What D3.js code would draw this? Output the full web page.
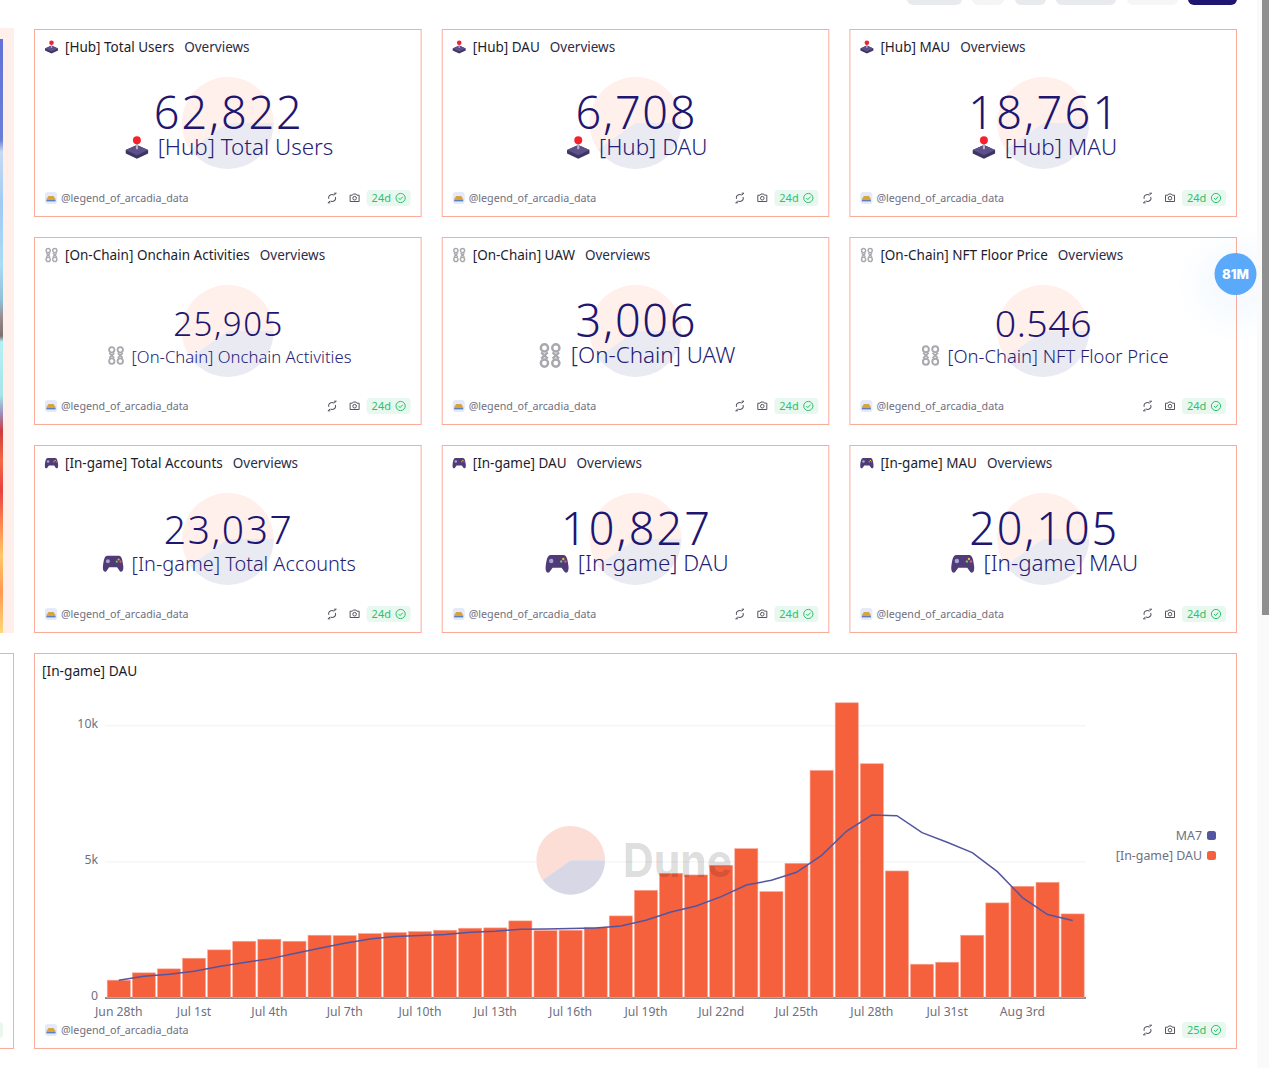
<!DOCTYPE html>
<html>
<head>
<meta charset="utf-8">
<title>Legend of Arcadia dashboard</title>
<script src="https://cdn.jsdelivr.net/npm/d3@7"></script>
<style>
  html, body { margin: 0; padding: 0; background: #fff; overflow: hidden; }
  svg { display: block; font-family: "Noto Sans", sans-serif; }
</style>
</head>
<body>
<div id="chart-area"></div>
<script>
// counter cards
var cardTitles = ["[Hub] Total Users", "[Hub] DAU", "[Hub] MAU",
  "[On-Chain] Onchain Activities", "[On-Chain] UAW", "[On-Chain] NFT Floor Price",
  "[In-game] Total Accounts", "[In-game] DAU", "[In-game] MAU"];
var cardValues = ["62,822", "6,708", "18,761", "25,905", "3,006", "0.546", "23,037", "10,827", "20,105"];
var cardIcons = ["hub", "hub", "hub", "chain", "chain", "chain", "game", "game", "game"];

// bottom chart
var dates = ["Jun 28th", "Jun 29th", "Jun 30th", "Jul 1st", "Jul 2nd", "Jul 3rd", "Jul 4th", "Jul 5th",
  "Jul 6th", "Jul 7th", "Jul 8th", "Jul 9th", "Jul 10th", "Jul 11th", "Jul 12th", "Jul 13th", "Jul 14th",
  "Jul 15th", "Jul 16th", "Jul 17th", "Jul 18th", "Jul 19th", "Jul 20th", "Jul 21st", "Jul 22nd", "Jul 23rd",
  "Jul 24th", "Jul 25th", "Jul 26th", "Jul 27th", "Jul 28th", "Jul 29th", "Jul 30th", "Jul 31st",
  "Aug 1st", "Aug 2nd", "Aug 3rd", "Aug 4th", "Aug 5th"];
var dau = [636, 906, 1052, 1443, 1749, 2067, 2141, 2067, 2288, 2275, 2349, 2386, 2422, 2471, 2545, 2557, 2814,
  2459, 2471, 2582, 2997, 3939, 4563, 4502, 4857, 5468, 3890, 4930, 8343, 10827, 8588, 4649,
  1223, 1296, 2288, 3475, 4086, 4233, 3071];
var ma7 = [636, 783, 856, 966, 1138, 1285, 1419, 1615, 1811, 1994, 2153, 2239, 2275, 2312, 2398, 2435, 2508,
  2520, 2533, 2557, 2630, 2838, 3144, 3364, 3707, 4135, 4306, 4600, 5223, 6117, 6704, 6680,
  6056, 5701, 5322, 4624, 3670, 3046, 2826];
var yTicks = [0, 5000, 10000];
var xTicks = ["Jun 28th", "Jul 1st", "Jul 4th", "Jul 7th", "Jul 10th", "Jul 13th", "Jul 16th", "Jul 19th",
  "Jul 22nd", "Jul 25th", "Jul 28th", "Jul 31st", "Aug 3rd"];

var BORDER = "#fbab99", NAVY = "#1e1670", ORANGE = "#f5603d", PURPLE = "#5355a0", GREY = "#6f6f80";

var svg = d3.select("#chart-area").append("svg").attr("width", 1269).attr("height", 1068);
var defs = svg.append("defs");

// the photo cut off at the left edge
var stripStops = [[0, "#6272d8"], [.17, "#6b7ed6"], [.19, "#c8d9f3"], [.28, "#9fcaf5"], [.38, "#a9dcf5"],
  [.44, "#8ec0d8"], [.47, "#9a8a8a"], [.50, "#7d7070"], [.51, "#b5f0f5"], [.60, "#a6e4e6"], [.63, "#9a90c0"],
  [.66, "#d03a3a"], [.71, "#f56a45"], [.76, "#e84040"], [.82, "#ff8a50"], [.87, "#ffc868"], [.93, "#ff9a50"], [1, "#ffd878"]];
var grad = defs.append("linearGradient").attr("id", "strip").attr("x1", 0).attr("x2", 0).attr("y1", 0).attr("y2", 1);
stripStops.forEach(function(s) { grad.append("stop").attr("offset", s[0]).attr("stop-color", s[1]); });
svg.append("rect").attr("x", 0).attr("y", 28).attr("width", 14).attr("height", 605).attr("fill", "#ffefea");
svg.append("rect").attr("x", 0).attr("y", 39).attr("width", 3).attr("height", 594).attr("fill", "url(#strip)");

// pills cut off at the top
[[907, 55, "#e9eaee"], [972, 32, "#f5f5f6"], [1015, 31, "#e9eaee"], [1056, 60, "#e9eaee"], [1127, 51, "#f6f6f7"], [1188, 49, NAVY]]
  .forEach(function(p) {
    svg.append("rect").attr("x", p[0]).attr("y", -8).attr("width", p[1]).attr("height", 13).attr("rx", 6).attr("fill", p[2]);
  });

// next chart's card cut off at the left
svg.append("rect").attr("x", -10).attr("y", 653.5).attr("width", 23.5).attr("height", 395).attr("fill", "none").attr("stroke", BORDER);
svg.append("rect").attr("x", -20).attr("y", 1022).attr("width", 23).attr("height", 16).attr("rx", 4).attr("fill", "#e8f8ef");

function duneMark(g, cx, cy, r, top, bottom) {
  var arc = d3.arc().innerRadius(0).outerRadius(r);
  var turn = Math.PI / 180;
  g.append("path").attr("transform", "translate(" + cx + "," + cy + ")")
    .attr("d", arc({ startAngle: -125 * turn, endAngle: 90 * turn })).attr("fill", top);
  g.append("path").attr("transform", "translate(" + cx + "," + cy + ")")
    .attr("d", arc({ startAngle: 90 * turn, endAngle: 235 * turn })).attr("fill", bottom);
}

// s = 1 means a 13px wide icon, drawn around (0,0)
function drawIcon(g, kind, x, y, s) {
  var i = g.append("g").attr("transform", "translate(" + x + "," + y + ") scale(" + s + ")");
  if (kind == "hub") {
    i.append("path").attr("d", "M-6.5,1.5 L0,-1.5 L6.5,1.5 L6.5,3.5 L0,6.5 L-6.5,3.5 Z").attr("fill", "#3e3560");
    i.append("path").attr("d", "M-6.5,1.5 L0,-1.5 L6.5,1.5 L0,4.5 Z").attr("fill", "#5c4f8a");
    i.append("rect").attr("x", -0.6).attr("y", -3.5).attr("width", 1.2).attr("height", 4.5).attr("fill", "#b8b4c4");
    i.append("circle").attr("cy", -4.2).attr("r", 2.3).attr("fill", "#f5222d");
  } else if (kind == "chain") {
    [-3.3, 3.3].forEach(function(dx) {
      [-4.4, 4.4].forEach(function(dy) {
        i.append("ellipse").attr("cx", dx).attr("cy", dy).attr("rx", 2.1).attr("ry", 2.1)
          .attr("fill", "none").attr("stroke", "#a8a8ae").attr("stroke-width", 1.4);
      });
      i.append("path").attr("d", "M" + (dx - 1.9) + ",-1.8 L" + (dx + 1.9) + ",1.8 M" + (dx + 1.9) + ",-1.8 L" + (dx - 1.9) + ",1.8")
        .attr("stroke", "#a8a8ae").attr("stroke-width", 1.3);
    });
  } else {
    i.append("path").attr("d", "M-3.8,-5 L3.8,-5 C5.6,-5 6.2,-2 6.6,1.5 C7,5 5.6,6 4.4,5 L2.6,2.5 L-2.6,2.5 L-4.4,5 C-5.6,6 -7,5 -6.6,1.5 C-6.2,-2 -5.6,-5 -3.8,-5 Z")
      .attr("fill", "#4e3b78");
    i.append("circle").attr("cx", -3.4).attr("cy", -1.5).attr("r", 1.3).attr("fill", "#a9a3d0");
    i.append("circle").attr("cx", 3.6).attr("cy", -2.6).attr("r", 0.7).attr("fill", "#f2b632");
    i.append("circle").attr("cx", 4.8).attr("cy", -1.2).attr("r", 0.7).attr("fill", "#e05c5c");
    i.append("circle").attr("cx", 2.4).attr("cy", -1.2).attr("r", 0.7).attr("fill", "#6fc36f");
  }
}

function drawFooter(g, x0, right, y, age) {
  // avatar and owner
  g.append("rect").attr("x", x0).attr("y", y - 6).attr("width", 12).attr("height", 12).attr("rx", 3).attr("fill", "#e4e9fb");
  g.append("path").attr("d", "M" + (x0 + 1.5) + "," + (y + 1) + " l2,-3 l5,0 l2,3 l0,1.5 l-9,0 Z").attr("fill", "#d9a43f");
  g.append("rect").attr("x", x0 + 1.5).attr("y", y + 2).attr("width", 9).attr("height", 1.4).attr("fill", "#5a7fc0");
  g.append("text").attr("x", x0 + 16).attr("y", y + 4).attr("font-size", 10.7).attr("fill", GREY).text("@legend_of_arcadia_data");

  // refresh icon
  var r = g.append("g").attr("transform", "translate(" + (right - 89) + "," + y + ")")
    .attr("fill", "none").attr("stroke", "#55555f").attr("stroke-width", 1);
  r.append("circle").attr("r", 3.4).attr("stroke-dasharray", "8 2.7").attr("transform", "rotate(-20)");
  r.append("path").attr("d", "M2,-3 L4.2,-4.8 M-2,3 L-4.2,4.8 M-4.2,4.8 L-1.8,4.8 M4.2,-4.8 L1.8,-4.8");

  // camera icon
  var c = g.append("g").attr("transform", "translate(" + (right - 66.5) + "," + y + ")")
    .attr("fill", "none").attr("stroke", "#55555f").attr("stroke-width", 1);
  c.append("path").attr("d", "M-4.5,-2.8 L-2.2,-2.8 L-1.3,-4 L1.3,-4 L2.2,-2.8 L4.5,-2.8 L4.5,3.5 L-4.5,3.5 Z");
  c.append("circle").attr("cy", 0.2).attr("r", 1.8);

  // age badge
  g.append("rect").attr("x", right - 54.5).attr("y", y - 8).attr("width", 44).attr("height", 16).attr("rx", 4).attr("fill", "#e8f8ef");
  g.append("text").attr("x", right - 49.5).attr("y", y + 4).attr("font-size", 11).attr("fill", "#2fbf71").text(age);
  var b = g.append("g").attr("transform", "translate(" + (right - 20.5) + "," + y + ")")
    .attr("fill", "none").attr("stroke", "#2fbf71").attr("stroke-width", 1);
  b.append("circle").attr("r", 4.6);
  b.append("path").attr("d", "M-2,0 L-0.5,1.6 L2.2,-1.4");
}

// the nine counters
var cardX = d3.scaleBand().domain([0, 1, 2]).range([34.5, 1236.5]).paddingInner(20 / 387);
var numberSizes = [45, 45, 45, 33, 45, 37.5, 39, 45, 45];
var numberWidths = [148, 120, 150, 109, 120, 97, 128, 149, 148];
var numberBase = [99.5, 99.5, 99.5, 98.5, 99.5, 99, 98.5, 99.5, 99.5];
var subSizes = [22.4, 22.4, 22.4, 16.7, 22.4, 18.4, 19.9, 22.4, 22.4];

cardTitles.forEach(function(title, i) {
  var x0 = cardX(i % 3), w = cardX.bandwidth(), y0 = 29.5 + Math.floor(i / 3) * 208, cx = x0 + w / 2;
  var g = svg.append("g");
  g.append("rect").attr("x", x0).attr("y", y0).attr("width", w).attr("height", 187)
    .attr("fill", "#fff").attr("stroke", BORDER);
  duneMark(g, cx, y0 + 93.5, 46, "#fff0ec", "#e9eaf2");

  // header
  drawIcon(g, cardIcons[i], x0 + 17, y0 + 17.5, 1);
  var head = g.append("text").attr("x", x0 + 30.5).attr("y", y0 + 22.5).attr("font-size", 13.5).attr("fill", "#1c1c2c").text(title);
  g.append("text").attr("x", x0 + 30.5 + head.node().getComputedTextLength() + 10).attr("y", y0 + 22.5)
    .attr("font-size", 13.5).attr("fill", "#2d2d48").text("Overviews");

  // number and its label
  g.append("text").attr("x", cx).attr("y", y0 + numberBase[i]).attr("text-anchor", "middle")
    .attr("font-size", numberSizes[i]).attr("font-weight", 350).attr("fill", NAVY)
    .attr("textLength", numberWidths[i]).text(cardValues[i]);
  var iconW = subSizes[i] * 0.95, gap = subSizes[i] * 0.45;
  var sub = g.append("text").attr("y", y0 + 125.5).attr("font-size", subSizes[i]).attr("font-weight", 350).attr("fill", "#241d72").text(title);
  var total = iconW + gap + sub.node().getComputedTextLength();
  var left = cx + 2 - total / 2;
  sub.attr("x", left + iconW + gap);
  drawIcon(g, cardIcons[i], left + iconW / 2, y0 + 118, subSizes[i] / 13);

  drawFooter(g, x0 + 10.5, x0 + w, y0 + 168.5, "24d");
});

// bottom chart card
svg.append("rect").attr("x", 34.5).attr("y", 653.5).attr("width", 1202).attr("height", 395)
  .attr("fill", "#fff").attr("stroke", BORDER);
svg.append("text").attr("x", 42).attr("y", 676).attr("font-size", 13.7).attr("fill", "#1c1c2c").text("[In-game] DAU");

var x = d3.scaleBand().domain(dates).range([106.2, 1085.2]).paddingInner(0.08).paddingOuter(0.04);
var y = d3.scaleLinear().domain([0, 10000]).range([997.5, 725.3]);

var yAxis = svg.append("g").attr("transform", "translate(105,0)")
  .call(d3.axisLeft(y).tickValues(yTicks).tickSize(-981).tickPadding(7)
    .tickFormat(function(d) { return d ? d / 1000 + "k" : "0"; }));
yAxis.select(".domain").remove();
yAxis.selectAll("line").attr("stroke", "#f1f1f3");
yAxis.selectAll("text").attr("font-size", 12.3).attr("fill", GREY).attr("font-family", "Noto Sans").attr("dy", "0.2em");

var xAxis = svg.append("g").attr("transform", "translate(0,997.5)")
  .call(d3.axisBottom(x).tickValues(xTicks).tickSize(0).tickPadding(10));
xAxis.select(".domain").attr("stroke", "#222").attr("d", "M105,0.5H1086");
xAxis.selectAll("text").attr("font-size", 12.2).attr("fill", GREY).attr("font-family", "Noto Sans");

svg.append("g").selectAll("rect").data(dates).enter().append("rect")
  .attr("x", function(d) { return x(d); })
  .attr("y", function(d, i) { return y(dau[i]); })
  .attr("width", x.bandwidth())
  .attr("height", function(d, i) { return y(0) - y(dau[i]); })
  .attr("fill", ORANGE)
  .attr("stroke", "#f9a795").attr("stroke-width", 0.6);

var line = d3.line()
  .x(function(d, i) { return x(dates[i]) + x.bandwidth() / 2; })
  .y(function(d) { return y(d); });
svg.append("path").attr("d", line(ma7)).attr("fill", "none").attr("stroke", PURPLE).attr("stroke-width", 1.5);

// watermark
duneMark(svg.append("g"), 570.7, 860.3, 34.3, "#fcded7", "#d7d7e5");
svg.append("text").attr("x", 623).attr("y", 876.5).attr("font-size", 46).attr("font-weight", 700)
  .attr("font-family", "Inter").attr("fill", "rgba(0,0,0,0.15)")
  .attr("textLength", 109).attr("lengthAdjust", "spacingAndGlyphs").text("Dune");

// legend
var legendNames = ["MA7", "[In-game] DAU"];
var legendColors = [PURPLE, ORANGE];
legendNames.forEach(function(name, i) {
  var ly = 835.5 + i * 20;
  svg.append("text").attr("x", 1202).attr("y", ly + 4.5).attr("text-anchor", "end").attr("font-size", 12.4).attr("fill", GREY).text(name);
  svg.append("rect").attr("x", 1207).attr("y", ly - 4.5).attr("width", 9).attr("height", 9).attr("rx", 2.5).attr("fill", legendColors[i]);
});

drawFooter(svg.append("g"), 45, 1236.5, 1030, "25d");

// floating bubble
var glow = defs.append("radialGradient").attr("id", "glow");
glow.append("stop").attr("offset", 0.4).attr("stop-color", "#5aa9fb").attr("stop-opacity", 0.05);
glow.append("stop").attr("offset", 1).attr("stop-color", "#5aa9fb").attr("stop-opacity", 0);
svg.append("circle").attr("cx", 1236).attr("cy", 284).attr("r", 60).attr("fill", "url(#glow)");
svg.append("circle").attr("cx", 1235.5).attr("cy", 274).attr("r", 21).attr("fill", "#5aa9fb");
svg.append("text").attr("x", 1235.5).attr("y", 279).attr("text-anchor", "middle").attr("font-size", 13.2)
  .attr("font-weight", 800).attr("font-family", "Inter").attr("fill", "#fff").text("81M");

// scrollbar
svg.append("rect").attr("x", 1257).attr("y", 0).attr("width", 12).attr("height", 1068).attr("fill", "#fafafa");
svg.append("rect").attr("x", 1262).attr("y", 0).attr("width", 7).attr("height", 615).attr("fill", "#8f8f8f");
</script>
</body>
</html>
